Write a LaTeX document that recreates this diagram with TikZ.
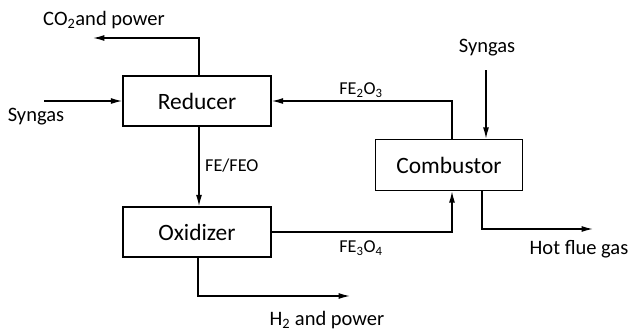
\documentclass[tikz,border=0pt]{standalone}
\usepackage{fontspec}
\setmainfont{Carlito}
\usetikzlibrary{arrows.meta}
\tikzset{
  unit/.style={draw=black, line width=1.2pt, minimum width=4.44cm, minimum height=1.5cm,
               inner sep=0pt, font=\fontsize{20}{20}\selectfont},
  lbl/.style={inner sep=0pt, font=\fontsize{17.5}{17.5}\selectfont},
  slbl/.style={inner sep=0pt, font=\fontsize{15.5}{15.5}\selectfont},
  flow/.style={line width=1.2pt, -{Latex[length=3.4mm,width=1.8mm]}},
}

\begin{document}
\begin{tikzpicture}[x=0.03cm, y=-0.03cm]
  \useasboundingbox (0,0) rectangle (630,331);
  % process units
  \node[unit] (reducer) at (197,101) {Reducer};
  \node[unit] (oxidizer) at (197,232) {Oxidizer};
  \node[unit, minimum width=4.41cm, minimum height=1.53cm] (combustor) at (449,165) {Combustor};
  % stream labels
  \node[lbl] (co2) at (104,20) {CO\textsubscript{2}and power};
  \node[lbl] (synleft) at (36,117) {Syngas};
  \node[lbl] (syntop) at (487,48) {Syngas};
  \node[lbl] (hot) at (579,249) {Hot flue gas};
  \node[lbl] (h2) at (327,320) {H\textsubscript{2} and power};
  \node[slbl] (fe2o3) at (361,90) {FE\textsubscript{2}O\textsubscript{3}};
  \node[slbl, anchor=west] (feo) at (205,166) {FE/FEO};
  \node[slbl] (fe3o4) at (361,248) {FE\textsubscript{3}O\textsubscript{4}};
  % free ends
  \coordinate (co2end) at (93,38);
  \coordinate (synin) at (44,101);
  \coordinate (synout) at (486,70);
  \coordinate (hotend) at (593,229);
  \coordinate (h2end) at (350,296);
  % streams
  \draw[flow] ([xshift=0.06cm]reducer.north) |- (co2end);
  \draw[flow] (synin) -- (reducer.west);
  \draw[flow] ([xshift=0.09cm]combustor.north) |- (reducer.east);
  \draw[flow] (synout) -- (synout |- combustor.north);
  \draw[flow] ([xshift=0.06cm]reducer.south) -- ([xshift=0.06cm]oxidizer.north);
  \draw[flow] (oxidizer.east) -| ([xshift=0.09cm]combustor.south);
  \draw[flow] ([xshift=0.99cm]combustor.south) |- (hotend);
  \draw[flow] ([xshift=0.03cm]oxidizer.south) |- (h2end);
\end{tikzpicture}
\end{document}
